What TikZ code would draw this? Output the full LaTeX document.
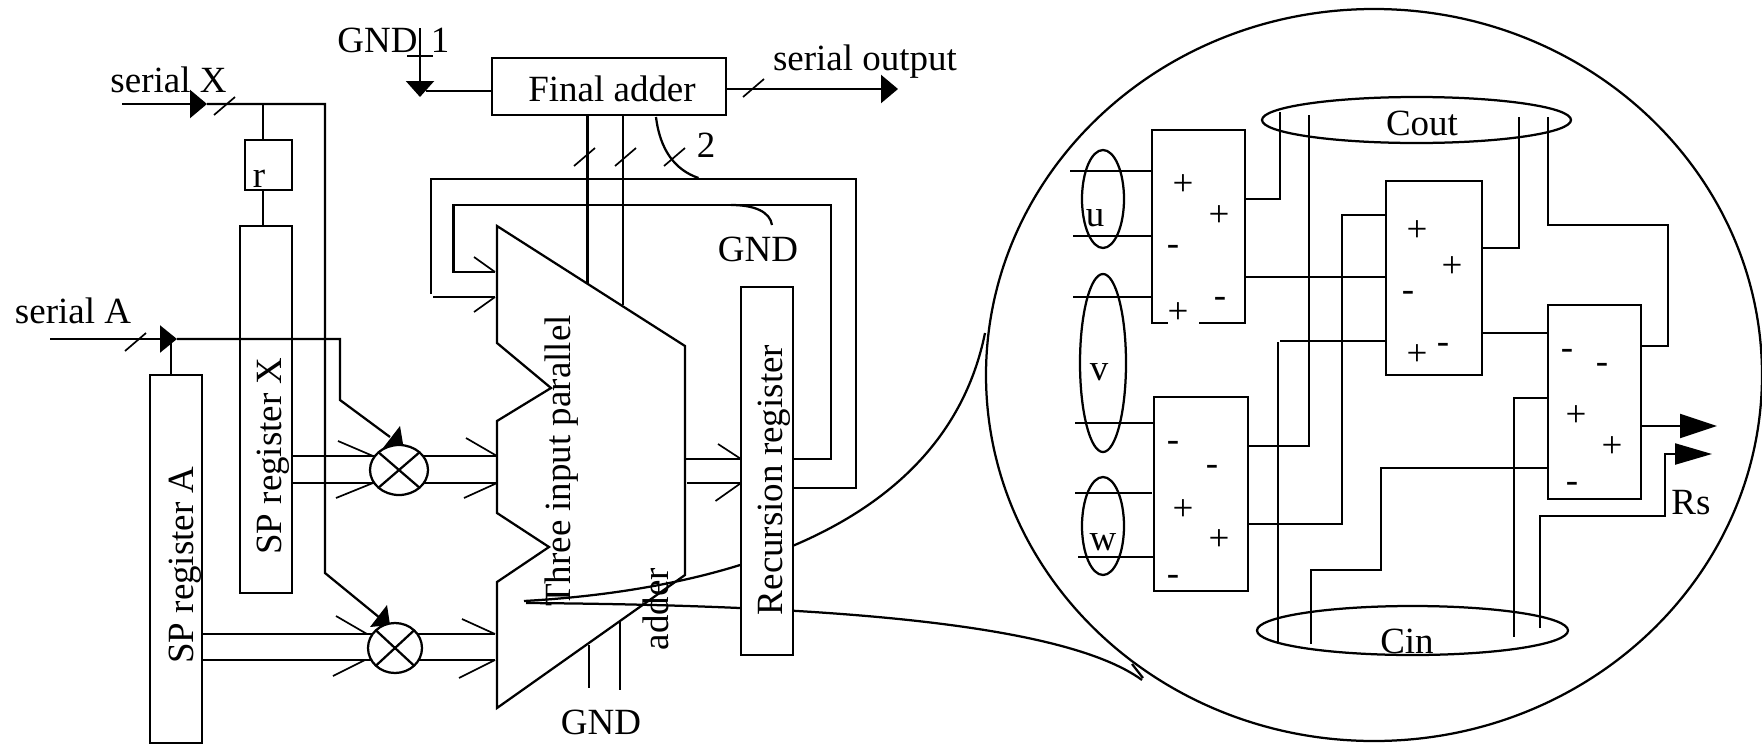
\documentclass[tikz,border=0pt]{standalone}
\usepackage{fontspec}
\setmainfont{Liberation Serif}
\usetikzlibrary{arrows.meta,shapes.geometric}
\tikzset{
    labeltext/.style={inner sep=0pt, anchor=base},
    sidetext/.style={inner sep=0pt, anchor=base, rotate=90},
    signtext/.style={inner sep=0pt, yshift=-0.085cm},
    regbox/.style 2 args={draw, fill=white, inner sep=0pt, outer sep=0pt,
          minimum width=#1*0.025cm, minimum height=#2*0.025cm},
    ringbox/.style 2 args={draw, ellipse, inner sep=0pt, outer sep=0pt,
          minimum width=#1*0.025cm, minimum height=#2*0.025cm},
    mulbox/.style 2 args={ringbox={#1}{#2}, fill=white},
    barb/.style={line width=1.2pt},
    headtip/.style 2 args={-{Triangle[length=#1*0.025cm, width=#2*0.025cm]}}
}
\begin{document}
\begin{tikzpicture}[x=0.025cm, y=-0.025cm, line width=1.6pt,
      every node/.style={font=\fontsize{26.3}{30}\selectfont}]
    \useasboundingbox (0,0) rectangle (1762,750);

    % left part: registers and multipliers
    \node[regbox={47}{50}] (rbox) at (268.5,165) {};
    \node[regbox={52}{367}] (spx) at (266,409.5) {};
    \node[regbox={52}{368}] (spa) at (176,559) {};
    \node[regbox={234}{57}] (fadd) at (609,86.5) {};

    \node[labeltext] (fatext) at (612,101) {Final adder};
    \node[sidetext] (spxtext) at (281,456) {SP register X};
    \node[sidetext] (spatext) at (193,565) {SP register A};
    \node[labeltext] (rtext) at (259,187) {r};
    \node[labeltext] (serx) at (168.5,92) {serial X};
    \node[labeltext] (sera) at (73,323) {serial A};
    \node[labeltext] (gndtop) at (377.5,52) {GND};
    \node[labeltext] (one) at (440,52) {1};
    \node[labeltext] (serout) at (865,70) {serial output};
    \node[labeltext] (two) at (706,157) {2};
    \node[labeltext] (gndmid) at (758,261) {GND};
    \node[labeltext] (gndlow) at (601,734) {GND};

    \coordinate (serxin) at (122,104);
    \coordinate (serxtip) at (207,104);
    \coordinate (serxcorner) at (325,104);
    \coordinate (serain) at (50,339);
    \coordinate (seratip) at (177,339);
    \coordinate (seracorner) at (340,339);
    \coordinate (gndwire) at (420,28);
    \coordinate (gndtip) at (420,97);
    \coordinate (outtip) at (898,89);

    \draw[headtip={17}{28}] (serxin) -- (serxtip);
    \draw (serxtip) -- (serxcorner) -- (325,573) -- (380,618);
    \fill (387,605) -- (370,627) -- (390,625) -- cycle;
    \draw (263,104) -- (263,140);
    \draw (263,190) -- (263,226);
    \draw[headtip={17}{27}] (serain) -- (seratip);
    \draw (seratip) -- (seracorner) -- (340,400) -- (390,437);
    \fill (400,426) -- (383,448) -- (403,444) -- cycle;
    \draw (171,339) -- (spa.north -| 171,0);
    \draw[headtip={16}{28}] (gndwire) -- (gndtip);
    \draw (407,56) -- (433,56);
    \draw (fadd.west |- 0,91) -- (426,91);
    \draw[headtip={17}{28}] (fadd.east |- 0,89) -- (outtip);

    % three input adder
    \draw (497,226) -- (685,346) -- (685,575) -- (497,708) -- (497,582)
          -- (549,547) -- (497,513) -- (497,421) -- (551,388) -- (497,343) -- cycle;
    \draw (spx.east |- 0,456) -- (497,456);
    \draw (spx.east |- 0,483) -- (497,483);
    \draw (spa.east |- 0,634) -- (495,634);
    \draw (spa.east |- 0,660) -- (495,660);
    \node[mulbox={58}{50}] (mula) at (399,470) {};
    \node[mulbox={54}{50}] (mulb) at (395,648) {};
    \foreach \mul in {mula,mulb} {
      \draw (\mul.north west) -- (\mul.south east);
      \draw (\mul.north east) -- (\mul.south west);
    }
    \draw (587.5,0 |- fadd.south) -- (587.5,283);
    \draw (623,0 |- fadd.south) -- (623,305);
    \draw (589,645) -- (589,688);
    \draw (620,622) -- (620,690);

    % zoom lines, they pass behind the recursion register
    \draw (524,601) .. controls (720,590) and (945,530) .. (985,333);
    \draw (526,603) .. controls (800,605) and (1060,620) .. (1142,680);
    \draw (1132,664) -- (1143,678);

    % feedback loops
    \node[regbox={52}{368}] (recreg) at (767,471) {};
    \draw (685,459) -- (recreg.west |- 0,459);
    \draw (687,483) -- (recreg.west |- 0,483);
    \draw (recreg.east |- 0,459) -- (831,459) -- (831,205) -- (453.5,205) -- (453.5,272) -- (495,272);
    \draw (recreg.east |- 0,488) -- (856,488) -- (856,179) -- (431,179) -- (431,294);
    \draw (433,297) -- (495,297);
    \draw (656,117) .. controls (660,150) and (675,170) .. (698.5,178);
    \draw (731,205) .. controls (755,205) and (770,212) .. (772,225);

    \foreach \ax/\ay in {214/115,125/351,574/166,615/166,664/166,743/97}
      \draw[barb] (\ax,\ay) -- ++(21,-18);
    \foreach \ax/\ay/\bx/\by in {338/441/373/456,336/498/373/483,466/438/497/456,464/498/497/483,
        336/616/367/634,333/676/365/660,462/619/495/634,459/678/495/660,
        474/312/495/297,474/257/495/272,718/444/741/459,715.5/501/741/483}
      \draw[barb] (\ax,\ay) -- (\bx,\by);

    \node[sidetext] (rectext) at (782,480) {Recursion register};
    \node[sidetext] (adtext) at (570,461) {Three input parallel};
    \node[sidetext] (addertext) at (668,609) {adder};

    % enlarged view
    \node[ringbox={776}{732}] (lens) at (1374,375) {};
    \node[ringbox={309}{46}] (cout) at (1416.5,120) {};
    \node[ringbox={311}{49}] (cin) at (1412.5,630.5) {};
    \node[ringbox={42}{98}] (uring) at (1103,199) {};
    \node[ringbox={46}{178}] (vring) at (1103,363) {};
    \node[ringbox={42}{98}] (wring) at (1103,526) {};
    \node[labeltext] (cottext) at (1422,135) {Cout};
    \node[labeltext] (cintext) at (1407,653) {Cin};
    \node[labeltext] (utext) at (1095,226) {u};
    \node[labeltext] (vtext) at (1099,380) {v};
    \node[labeltext] (wtext) at (1103,550) {w};
    \node[labeltext] (rstext) at (1691,514) {Rs};

    \node[regbox={93}{193}] (adda) at (1198.5,226.5) {};
    \node[regbox={96}{194}] (addb) at (1434,278) {};
    \node[regbox={94}{194}] (addc) at (1201,494) {};
    \node[regbox={93}{194}] (addd) at (1594.5,402) {};
    \draw[white, line width=3pt] (1168,323) -- (1199,323);

    \foreach \sx/\sy/\sgn in {1183/182/+,1219/213/+,1173/247/-,1178/310/+,1220/299/-,
        1417/228/+,1452/264/+,1408/293/-,1417/352/+,1443/345/-,
        1173/443/-,1212/467/-,1183/507/+,1219/537/+,1173/577/-,
        1567/351/-,1602/365/-,1576/413/+,1612/444/+,1572/484/-}
      \node[signtext] at (\sx,\sy) {\sgn};

    \draw (1070,171) -- (adda.west |- 0,171);
    \draw (1073,236) -- (adda.west |- 0,236);
    \draw (1073,297) -- (adda.west |- 0,297);
    \draw (1075,423) -- (addc.west |- 0,423);
    \draw (1075,493) -- (1152,493);
    \draw (1078,557) -- (addc.west |- 0,557);

    \draw (adda.east |- 0,199) -- (1280,199) -- (1280,112);
    \draw (adda.east |- 0,277) -- (addb.west |- 0,277);
    \draw (1309,115) -- (1309,446) -- (addc.east |- 0,446);
    \draw (addb.west |- 0,215) -- (1342,215) -- (1342,524) -- (addc.east |- 0,524);
    \draw (addb.west |- 0,341) -- (1280,341);
    \draw (1278,342) -- (1278,642);
    \draw (1311,644) -- (1311,570) -- (1381,570) -- (1381,468) -- (addd.west |- 0,468);
    \draw (addb.east |- 0,248) -- (1519,248) -- (1519,117);
    \draw (addb.east |- 0,333) -- (addd.west |- 0,333);
    \draw (1548,117) -- (1548,225) -- (1668,225) -- (1668,346) -- (addd.east |- 0,346);
    \draw (addd.west |- 0,398) -- (1514,398) -- (1514,637);
    \draw[headtip={37}{24}] (addd.east |- 0,426) -- (1717,426);
    \draw[headtip={37}{21}] (1540,628) -- (1540,516) -- (1665,516) -- (1665,454) -- (1712,454);
\end{tikzpicture}
\end{document}
